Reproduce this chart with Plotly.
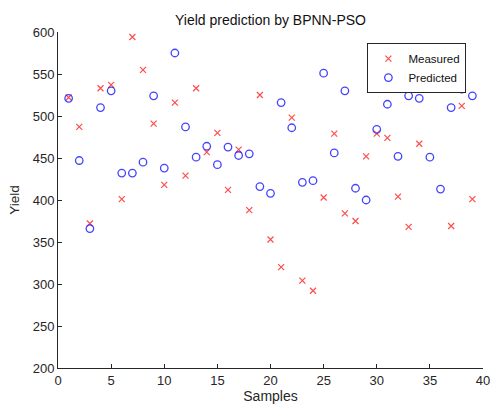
import plotly.graph_objects as go

samples = list(range(1, 40))
measured = [522, 487, 372, 533, 537, 401, 594, 555, 491, 418,
            516, 429, 533, 457, 480, 412, 460, 388, 525, 353,
            320, 498, 304, 292, 403, 479, 384, 375, 452, 479,
            474, 404, 368, 467, 546, 533, 369, 512, 401]
predicted = [521, 447, 366, 510, 530, 432, 432, 445, 524, 438,
             575, 487, 451, 464, 442, 463, 453, 455, 416, 408,
             516, 486, 421, 423, 551, 456, 530, 414, 400, 484,
             514, 452, 524, 521, 451, 413, 510, 532, 524]
x_ticks = [0, 5, 10, 15, 20, 25, 30, 35, 40]
y_ticks = [200, 250, 300, 350, 400, 450, 500, 550, 600]

font = "Liberation Sans, Arial, sans-serif"
red = "rgba(255,45,45,0.85)"
blue = "rgba(35,35,255,0.85)"

fig = go.Figure()
fig.add_trace(go.Scatter(
    x=samples, y=measured, mode="markers", name="Measured",
    marker=dict(symbol="x-thin-open", size=6, color=red,
                line=dict(width=1.2, color=red)),
))
fig.add_trace(go.Scatter(
    x=samples, y=predicted, mode="markers", name="Predicted",
    marker=dict(symbol="circle-open", size=7.5, color=blue,
                line=dict(width=1.3, color=blue)),
))

axis_common = dict(
    showline=True, linecolor="#262626", linewidth=1, mirror=False,
    ticks="inside", ticklen=4, tickcolor="#262626", showgrid=False,
    zeroline=False, automargin=False, ticklabeloverflow="allow",
    tickfont=dict(family=font, size=13, color="#262626"),
)

fig.update_layout(
    width=491, height=410,
    margin=dict(l=58, r=8, t=32, b=42, pad=0),
    paper_bgcolor="white", plot_bgcolor="white",
    title=dict(text="Yield prediction by BPNN-PSO", xref="paper", x=0.5,
               xanchor="center", y=0.95, yanchor="middle", automargin=False,
               font=dict(family=font, size=14, color="#111")),
    xaxis=dict(range=[0, 40], tickvals=x_ticks,
               title=dict(text="Samples", standoff=4,
                          font=dict(family=font, size=14, color="#262626")),
               **axis_common),
    yaxis=dict(range=[200, 600], tickvals=y_ticks,
               title=dict(text="Yield", standoff=9,
                          font=dict(family=font, size=13.5, color="#262626")),
               **axis_common),
    legend=dict(x=0.728, y=0.967, xanchor="left", yanchor="top",
                bgcolor="white", bordercolor="#262626", borderwidth=1,
                font=dict(family=font, size=11.5, color="#111"),
                tracegroupgap=0, itemwidth=30),
    showlegend=True,
)

fig.write_html("out.html", config={"displayModeBar": False},
               post_script="document.body.style.margin='0';")
